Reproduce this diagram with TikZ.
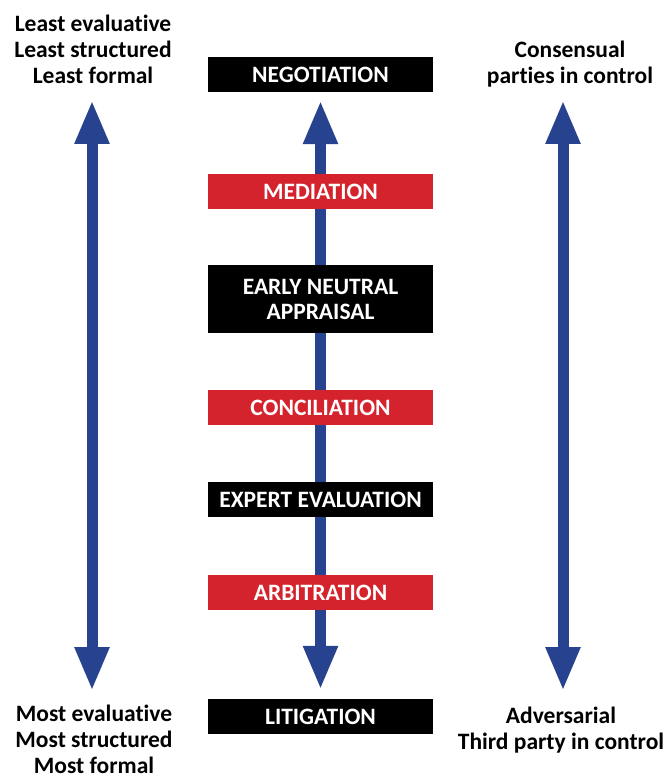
\documentclass[tikz,border=0pt]{standalone}
\usepackage{fontspec}
\setmainfont[Ligatures=NoCommon]{Carlito}
\usepackage{xcolor}
\definecolor{adrBlue}{HTML}{27428F}
\definecolor{adrRed}{HTML}{D4232D}
\definecolor{adrBlack}{HTML}{000000}
\usetikzlibrary{arrows.meta,positioning,backgrounds}
\tikzset{
    step box/.style={
        rectangle,
        fill=adrBlack,
        text=white,
        align=center,
        minimum width=225pt,
        minimum height=35pt,
        inner sep=0pt,
        font=\fontsize{23.5}{25}\selectfont\bfseries
    },
    red box/.style={
        step box,
        fill=adrRed
    },
    side text/.style={
        align=center,
        inner sep=0pt,
        anchor=base,
        font=\fontsize{23.5}{26}\selectfont\bfseries
    },
    big arrow/.style={
        {Triangle[length=44pt,width=32pt]}-{Triangle[length=44pt,width=32pt]},
        line width=11pt,
        color=adrBlue
    }
}

\begin{document}
\begin{tikzpicture}[x=1pt,y=-1pt]
    \useasboundingbox (0,0) rectangle (670,778);

    % Processes
    \node[step box] (negotiation) at (320.5,74.5) {NEGOTIATION};
    \node[red box] (mediation) at (320.5,191.5) {MEDIATION};
    \node[step box, minimum height=68pt] (appraisal) at (320.5,299) {EARLY NEUTRAL\\APPRAISAL};
    \node[red box] (conciliation) at (320.5,407.5) {CONCILIATION};
    \node[step box] (expert) at (320.5,499.5) {EXPERT EVALUATION};
    \node[red box] (arbitration) at (320.5,592.5) {ARBITRATION};
    \node[step box] (litigation) at (320.5,716.5) {LITIGATION};

    % Middle arrow behind the boxes
    \begin{scope}[on background layer]
        \draw[big arrow, shorten <=8pt, shorten >=9pt] (negotiation.south) -- (litigation.north);
    \end{scope}

    % Left side (base = last line)
    \node[side text] (leasttxt) at (93,84) {Least evaluative\\Least structured\\Least formal};
    \node[side text] (mosttxt) at (94,773) {Most evaluative\\Most structured\\Most formal};
    \coordinate (ltop) at (92,100);
    \coordinate (lbot) at (92,691);
    \draw[big arrow] (ltop) -- (lbot);

    % Right side
    \node[side text] (consensual) at (570,84) {Consensual\\parties in control};
    \node[side text] (adversarial) at (561,749) {Adversarial\\Third party in control};
    \coordinate (rtop) at (563,100);
    \coordinate (rbot) at (563,691);
    \draw[big arrow] (rtop) -- (rbot);
\end{tikzpicture}
\end{document}
